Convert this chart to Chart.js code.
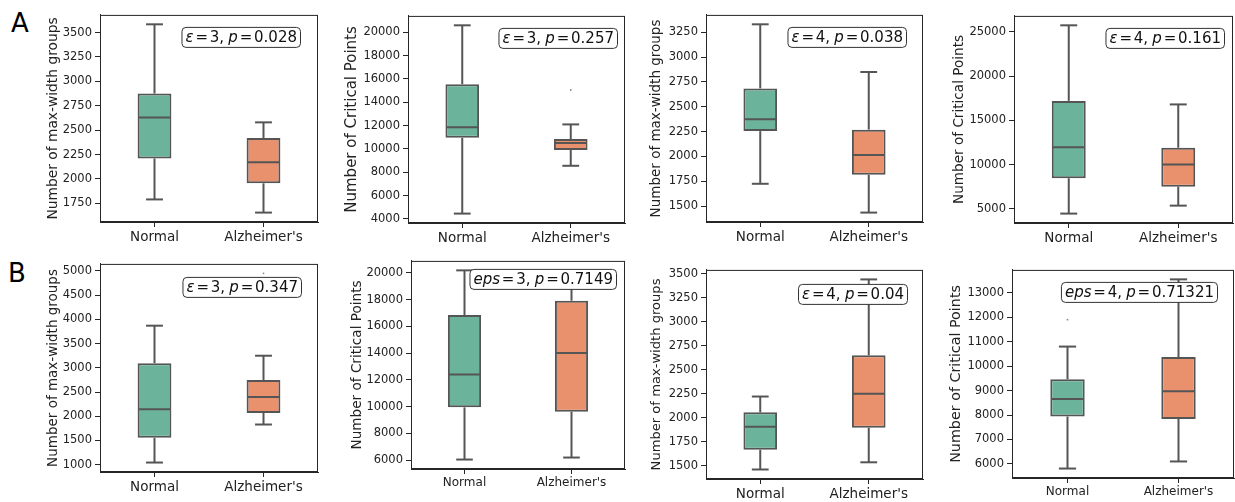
<!DOCTYPE html>
<html>
<head>
<meta charset="utf-8">
<script src="https://cdn.jsdelivr.net/npm/chart.js@4.4.1/dist/chart.umd.min.js"></script>
<style>
  html, body { margin: 0; padding: 0; background: #fff; overflow: hidden; }
  #wrap { position: relative; width: 1235px; height: 502px; overflow: hidden; }
  .panel { position: absolute; }
  .letter { position: absolute; font-family: "DejaVu Sans"; font-size: 26px; line-height: 1; color: #000; }
</style>
</head>
<body>
<div id="wrap">
  <div class="letter" style="left:11px;top:10px">A</div>
  <div class="letter" style="left:8px;top:260px">B</div>
</div>
<script>
// Datos de los 8 diagramas de caja (fila A y fila B)
const categories = ['Normal', "Alzheimer's"];
const yTitles = [
  'Number of max-width groups', 'Number of Critical Points',
  'Number of max-width groups', 'Number of Critical Points',
  'Number of max-width groups', 'Number of Critical Points',
  'Number of max-width groups', 'Number of Critical Points'
];
const annoSymbol = ['ε', 'ε', 'ε', 'ε', 'ε', 'eps', 'ε', 'eps'];
const annoEps = ['3', '3', '4', '4', '3', '3', '4', '4'];
const annoP = ['0.028', '0.257', '0.038', '0.161', '0.347', '0.7149', '0.04', '0.71321'];

// [Normal, Alzheimer's] por panel
const whiskerLow  = [[1790, 1655], [4450, 8550], [1725, 1435], [4450, 5350], [1045, 1830], [6050, 6200], [1460, 1535], [5810, 6100]];
const q1          = [[2210, 1955], [10950, 9900], [2255, 1815], [8450, 7500], [1555, 2070], [9950, 9630], [1665, 1895], [7940, 7840]];
const medians     = [[2630, 2170], [11850, 10500], [2375, 2015], [11950, 9990], [2145, 2400], [12400, 14020], [1905, 2250], [8660, 8970]];
const q3          = [[2875, 2420], [15550, 10850], [2685, 2270], [17200, 11900], [3095, 2750], [16850, 17920], [2055, 2650], [9460, 10370]];
const whiskerHigh = [[3585, 2580], [20600, 12100], [3330, 2850], [25750, 16800], [3870, 3250], [20190, 19300], [2220, 3440], [10800, 13550]];
const outliers    = [[[], []], [[], [15050]], [[], []], [[], []], [[], [4950]], [[], []], [[], []], [[11900], []]];

const yTicks = [
  [1750, 2000, 2250, 2500, 2750, 3000, 3250, 3500],
  [4000, 6000, 8000, 10000, 12000, 14000, 16000, 18000, 20000],
  [1500, 1750, 2000, 2250, 2500, 2750, 3000, 3250],
  [5000, 10000, 15000, 20000, 25000],
  [1000, 1500, 2000, 2500, 3000, 3500, 4000, 4500, 5000],
  [6000, 8000, 10000, 12000, 14000, 16000, 18000, 20000],
  [1500, 1750, 2000, 2250, 2500, 2750, 3000, 3250, 3500],
  [6000, 7000, 8000, 9000, 10000, 11000, 12000, 13000]
];

// Disposición en la página (px)
const plotRects = [
  [100, 11, 318, 222], [408, 12, 625, 223], [706, 11, 923, 222], [1014, 12, 1233, 223],
  [100, 260, 318, 472], [411, 257, 625, 469], [706, 266, 923, 479], [1012, 266, 1234, 478]
];
const titleGap = [47, 56, 50, 55, 47, 54, 49, 55];
const titleFont = [13.8, 15, 13.5, 13.6, 13.5, 13.6, 13.1, 14.3];
const annoRight = [18, 8, 17, 9, 17, 9, 16, 17];
const annoTop = [12, 12, 12, 12, 13, 8, 14, 12];
const catFont = [13.5, 13.5, 13.5, 13.5, 13.5, 12, 13.5, 12];

const green = '#6cb39b';
const orange = '#e8916c';
const edge = '#555555';
const frame = '#262626';

Chart.defaults.font.family = '"DejaVu Sans"';

// Bigotes, mediana, marco y anotación
function makeBoxPlugin(i) {
  return {
    id: 'boxExtras' + i,
    afterDatasetsDraw(chart) {
      const ctx = chart.ctx;
      const y = chart.scales.y;
      const meta = chart.getDatasetMeta(0);
      const line = (x1, y1, x2, y2) => { ctx.beginPath(); ctx.moveTo(x1, y1); ctx.lineTo(x2, y2); ctx.stroke(); };
      ctx.save();
      ctx.strokeStyle = edge;
      ctx.lineWidth = 2;
      meta.data.forEach((bar, k) => {
        const x = bar.x, hw = bar.width / 2;
        const yLo = y.getPixelForValue(whiskerLow[i][k]);
        const yHi = y.getPixelForValue(whiskerHigh[i][k]);
        const yQ1 = y.getPixelForValue(q1[i][k]);
        const yQ3 = y.getPixelForValue(q3[i][k]);
        const yMed = y.getPixelForValue(medians[i][k]);
        line(x, yQ3, x, yHi);
        line(x - hw / 2, yHi, x + hw / 2, yHi);
        line(x, yQ1, x, yLo);
        line(x - hw / 2, yLo, x + hw / 2, yLo);
        line(x - hw + 1, yMed, x + hw - 1, yMed);
        ctx.fillStyle = '#888';
        outliers[i][k].forEach(v => {
          ctx.beginPath();
          ctx.arc(x, y.getPixelForValue(v), 0.9, 0, Math.PI * 2);
          ctx.fill();
        });
      });

      const a = chart.chartArea;
      ctx.strokeStyle = frame;
      ctx.lineWidth = 1;
      ctx.strokeRect(a.left + 0.5, a.top + 0.5, a.right - a.left - 1, a.bottom - a.top - 1);

      // anotación con ε y p en cursiva (espaciado estrecho tipo mathtext)
      const gap = 1.8;
      const segs = [[annoSymbol[i], true], ['=', false], [annoEps[i] + ',', false], ['p', true], ['=', false], [annoP[i], false]];
      const fontN = '15px "DejaVu Sans"', fontI = 'italic 15px "DejaVu Sans"';
      let tw = 0;
      segs.forEach(s => { ctx.font = s[1] ? fontI : fontN; tw += ctx.measureText(s[0]).width; });
      tw += gap * (segs.length - 1) + 2.5;
      const w = tw + 7, h = 20;
      const x0 = a.right - annoRight[i] - w, y0 = a.top + annoTop[i];
      ctx.beginPath();
      ctx.roundRect(x0 + 0.5, y0 + 0.5, w, h, 4);
      ctx.fillStyle = '#fff';
      ctx.fill();
      ctx.strokeStyle = '#333';
      ctx.stroke();
      ctx.fillStyle = '#111';
      ctx.textBaseline = 'middle';
      let tx = x0 + 4;
      segs.forEach((s, n) => {
        ctx.font = s[1] ? fontI : fontN;
        ctx.fillText(s[0], tx, y0 + h / 2 + 1);
        tx += ctx.measureText(s[0]).width + gap + (n === 2 ? 2.5 : 0);
      });
      ctx.restore();
    }
  };
}

const wrap = document.getElementById('wrap');

plotRects.forEach((r, i) => {
  const axisW = Math.round(titleGap[i] + titleFont[i] * 0.6 + 2);
  const plotW = r[2] - r[0], plotH = r[3] - r[1];
  const canvas = document.createElement('canvas');
  canvas.className = 'panel';
  canvas.width = axisW + plotW + 6;
  canvas.height = plotH + 6 + 30;
  canvas.style.left = (r[0] - axisW) + 'px';
  canvas.style.top = (r[1] - 6) + 'px';
  wrap.appendChild(canvas);

  // rango con margen del 5% como en matplotlib
  const all = [].concat(whiskerLow[i], whiskerHigh[i], outliers[i][0], outliers[i][1]);
  const lo = Math.min(...all), hi = Math.max(...all);
  const pad = (hi - lo) * 0.05;

  new Chart(canvas, {
    type: 'bar',
    data: {
      labels: categories,
      datasets: [{
        data: categories.map((c, k) => [q1[i][k], q3[i][k]]),
        backgroundColor: [green, orange],
        borderColor: edge,
        borderWidth: 2,
        borderSkipped: false,
        barPercentage: 0.31,
        categoryPercentage: 1
      }]
    },
    options: {
      responsive: false,
      animation: false,
      layout: { padding: { top: 6, right: 6, left: 0, bottom: 0 } },
      plugins: { legend: { display: false }, tooltip: { enabled: false } },
      scales: {
        x: {
          grid: { drawOnChartArea: false, drawTicks: true, tickLength: 5, color: frame, offset: false },
          border: { color: frame },
          ticks: { color: '#222', font: { size: catFont[i] }, padding: 2, maxRotation: 0 },
          afterFit(s) { s.height = 30; }
        },
        y: {
          min: lo - pad,
          max: hi + pad,
          grid: { drawOnChartArea: false, drawTicks: true, tickLength: 5, color: frame },
          border: { color: frame },
          ticks: { color: '#222', font: { size: 11.5 }, padding: 3, callback: v => String(v) },
          afterBuildTicks(s) { s.ticks = yTicks[i].map(v => ({ value: v })); },
          title: { display: true, text: yTitles[i], color: '#222', font: { size: titleFont[i] }, padding: { top: 2, bottom: 0 } },
          afterFit(s) { s.width = axisW; }
        }
      }
    },
    plugins: [makeBoxPlugin(i)]
  });
});
</script>
</body>
</html>
